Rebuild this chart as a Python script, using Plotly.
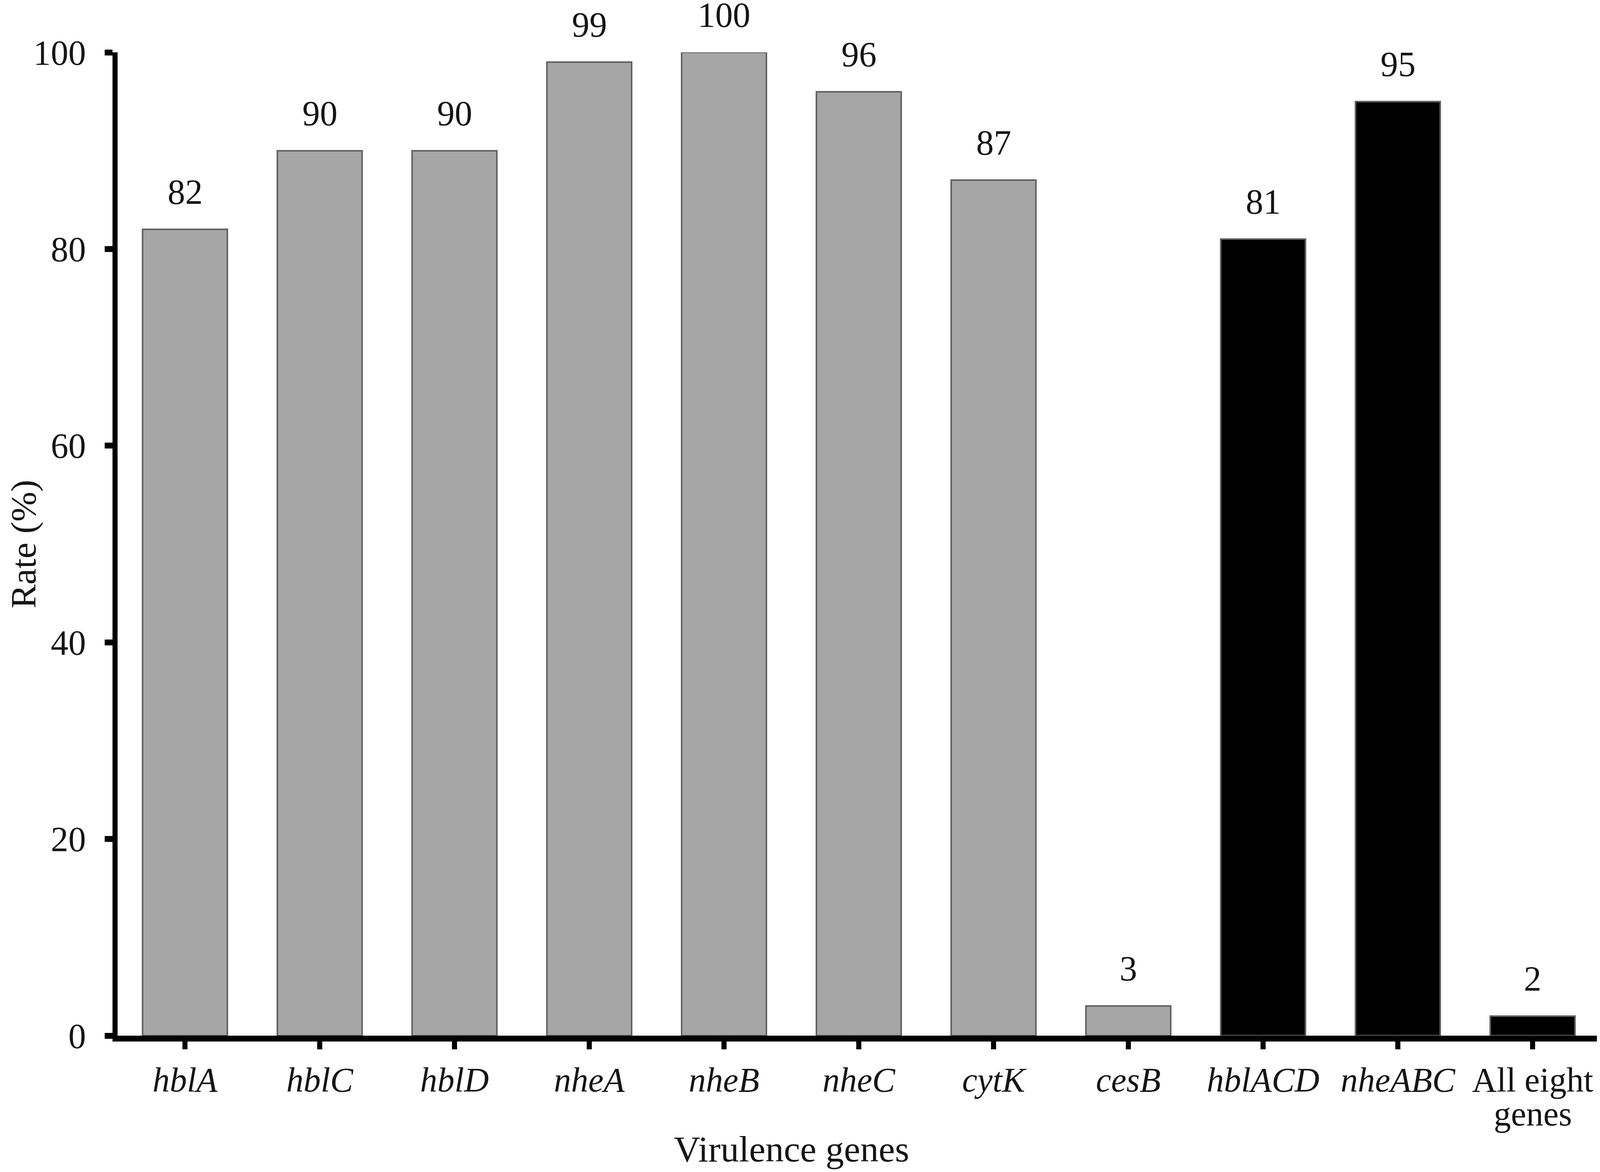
import plotly.graph_objects as go

# ---- data ----
categories = ["hblA", "hblC", "hblD", "nheA", "nheB", "nheC", "cytK", "cesB",
              "hblACD", "nheABC", "All eight genes"]
tick_labels = ["<i>hblA</i>", "<i>hblC</i>", "<i>hblD</i>", "<i>nheA</i>", "<i>nheB</i>",
               "<i>nheC</i>", "<i>cytK</i>", "<i>cesB</i>", "<i>hblACD</i>", "<i>nheABC</i>",
               "All eight"]
last_label_second_line = "genes"
rates = [82, 90, 90, 99, 100, 96, 87, 3, 81, 95, 2]
groups = ["single"] * 8 + ["combined"] * 3
y_ticks = [0, 20, 40, 60, 80, 100]
x_title = "Virulence genes"
y_title = "Rate (%)"

# ---- style ----
color_map = {"single": "#a6a6a6", "combined": "#000000"}
bar_colors = [color_map[g] for g in groups]
xpos = list(range(len(categories)))

FONT = "Liberation Serif"
TXT = "#151515"
W, H = 4096, 3000          # browser viewport is 4096 px wide
ML, MR, MT, MB = 293, 8, 126, 357
CAT_SIZE = 88

fig = go.Figure()
fig.add_trace(go.Bar(
    x=xpos, y=rates, width=0.63,
    marker=dict(color=bar_colors, line=dict(color="#626262", width=4)),
    hovertext=categories, showlegend=False,
))

# value labels above bars
for xi, v in zip(xpos, rates):
    fig.add_annotation(x=xi, y=v, text=str(v), showarrow=False,
                       yanchor="bottom", yshift=45, borderpad=0,
                       font=dict(family=FONT, size=90, color=TXT))

# second line of the last category label
fig.add_annotation(x=xpos[-1], xref="x", y=0, yref="paper", text=last_label_second_line,
                   showarrow=False, yanchor="middle", yshift=-200,
                   font=dict(family=FONT, size=CAT_SIZE, color=TXT))

# axis titles
fig.add_annotation(x=4.5, xref="x", y=0, yref="paper", text=x_title, showarrow=False,
                   yanchor="middle", yshift=-290,
                   font=dict(family=FONT, size=94, color=TXT))
fig.add_annotation(x=0, xref="paper", y=0.5, yref="paper", text=y_title, showarrow=False,
                   textangle=-90, xanchor="center", yanchor="middle", xshift=-242,
                   borderpad=0,
                   font=dict(family=FONT, size=92, color=TXT))

fig.update_layout(
    width=W, height=H,
    margin=dict(l=ML, r=MR, t=MT, b=MB),
    plot_bgcolor="white", paper_bgcolor="white",
    font=dict(family=FONT, color=TXT),
    bargap=0,
)

fig.update_xaxes(
    range=[-0.5, 10.5],
    tickmode="array", tickvals=xpos + [10.5], ticktext=tick_labels + [""],
    ticks="outside", ticklen=20, tickwidth=13, tickcolor="black",
    showline=True, linewidth=15, linecolor="black",
    showgrid=False, zeroline=False,
    tickfont=dict(family=FONT, size=CAT_SIZE, color=TXT),
    ticklabelstandoff=2,
)
fig.update_yaxes(
    range=[0, 100],
    tickmode="array", tickvals=y_ticks,
    ticks="outside", ticklen=20, tickwidth=15, tickcolor="black",
    showline=True, linewidth=13, linecolor="black",
    showgrid=False, zeroline=False,
    tickfont=dict(family=FONT, size=90, color=TXT),
    ticklabelstandoff=30,
)

fig.write_html("out.html")
